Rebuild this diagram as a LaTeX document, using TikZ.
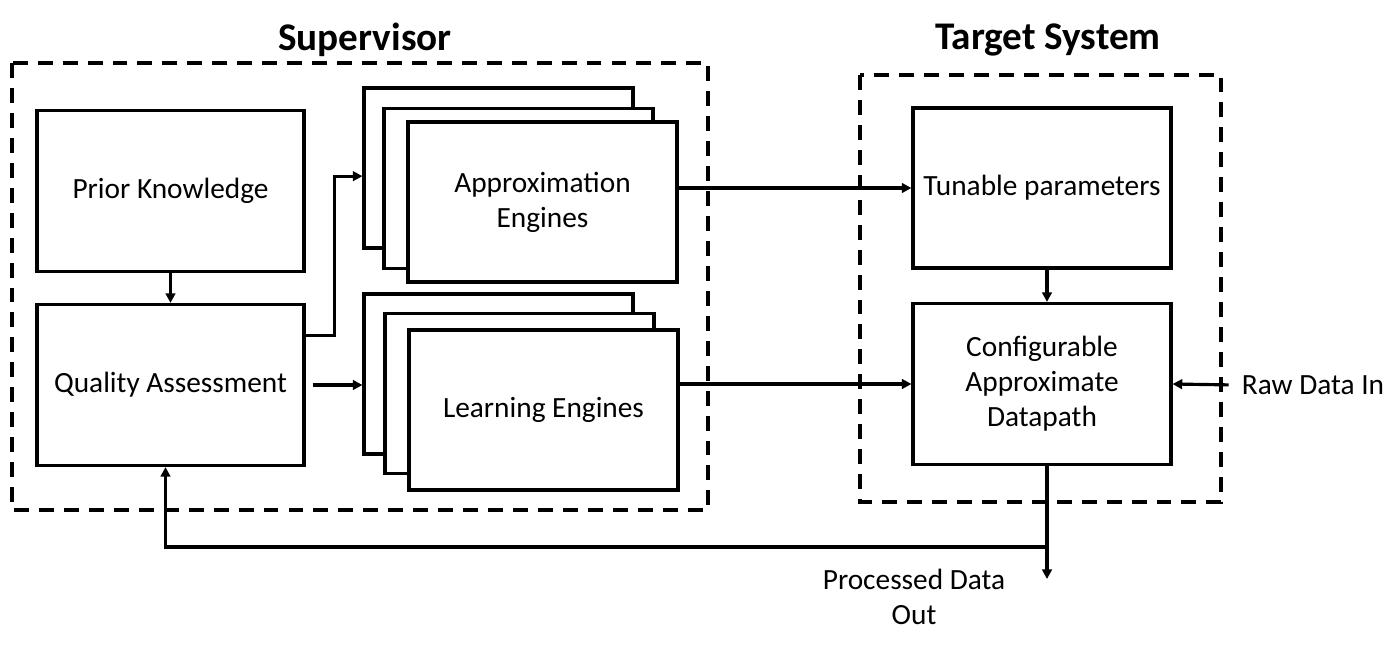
\documentclass[tikz,border=0pt]{standalone}
\usepackage{fontspec}
\setmainfont{Carlito}
\usetikzlibrary{arrows.meta,calc}
\begin{document}
\begin{tikzpicture}[x=0.02cm,y=-0.02cm,
  font=\fontsize{16.7}{20}\selectfont,
  blk/.style={draw,line width=1.8pt,fill=white,minimum width=5.34cm,minimum height=3.22cm,align=center},
  eng/.style={blk,minimum width=5.38cm,minimum height=3.2cm},
  dashbox/.style={line width=2pt,dash pattern=on 8.5pt off 5.7pt},
  ttl/.style={font=\fontsize{22.3}{26}\selectfont\bfseries},
  arr/.style={line width=1.8pt,-{Triangle[length=5.5pt,width=5.5pt]}}]%supervisor + target
\useasboundingbox (0,0) rectangle (1400,646);
\draw[dashbox] (12,63) rectangle (708,510);
\draw[dashbox] (860,75) rectangle (1221,502);
\node[ttl] (sup) at (365,40) {Supervisor};
\node[ttl] (tgt) at (1048,40) {Target System};
\node[blk] (prior) at (170.5,191) {Prior Knowledge};
\node[blk] (quality) at (170.5,385) {Quality Assessment};
\node[eng] (apprback) at (498.5,168) {};
\node[eng] (apprmid) at (518.5,188.5) {};
\node[eng] (apprfront) at (542.5,202) {Approximation\\Engines};
\node[eng] (learnback) at (498.5,374) {};
\node[eng] (learnmid) at (519.5,393.5) {};
\node[eng] (learnfront) at (543.5,410) {Learning Engines};
\node[blk,minimum width=5.16cm,minimum height=3.2cm] (tunable) at (1042,188) {Tunable parameters};
\node[blk,minimum width=5.16cm,minimum height=3.22cm] (config) at (1042,384) {Configurable\\Approximate\\Datapath};
\node (raw) at (1313,385) {Raw Data In};
\node[align=center] (procout) at (914,597) {Processed Data\\Out};
\coordinate (qa) at ($(quality.north east)!0.2!(quality.south east)$);
\coordinate (ap) at ($(apprback.north west)!0.55!(apprback.south west)$);
\coordinate (tap) at ($(config.south)+(5,81)$);
\coordinate (outend) at ($(config.south)+(5,113)$);
\draw[arr] (prior) -- (quality);
\draw[arr] (qa) -- ++(29,0) |- (ap);
\draw[arr,shorten <=4pt] (quality.east) -- (learnback.west |- quality.east);
\draw[arr] (apprfront.east |- tunable.west) -- (tunable.west);
\draw[arr] (learnfront.east |- config.west) -- (config.west);
\draw[arr] (tunable.south -| outend) -- (config.north -| outend);
\draw[arr,shorten <=4pt] (raw.west) -- (config.east);
\draw[arr] (config.south -| outend) -- (outend);
\draw[arr] (tap) -| ([xshift=-0.1cm]quality.south);
\end{tikzpicture}
\end{document}
